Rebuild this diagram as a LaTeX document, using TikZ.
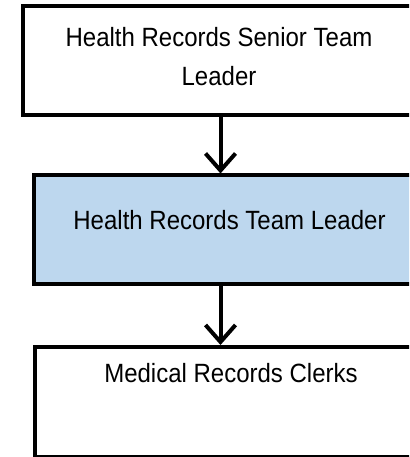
\documentclass[tikz,border=0pt]{standalone}
\usepackage{fontspec}
\setmainfont{Liberation Sans}
\usetikzlibrary{arrows.meta}
\definecolor{leadblue}{HTML}{BDD7EE}
\tikzset{
  post/.style={draw=black, line width=4pt, rectangle, inner sep=0pt},
  postname/.style={inner sep=0pt, align=center, yscale=1.1, transform shape,
    font=\fontsize{24}{35.5}\selectfont},
  arr/.style={line width=4pt, -{Straight Barb[length=17pt,width=30pt]}}
}
\begin{document}
\begin{tikzpicture}[x=1pt,y=1pt]
  \useasboundingbox (0,0) rectangle (409,457);
  \clip (0,0) rectangle (409,457);
  % the three posts, top to bottom
  \node[post, fill=white, minimum width=395pt, minimum height=109pt] (senior) at (220.5,396) {};
  \node[post, fill=leadblue, minimum width=390pt, minimum height=109pt] (leader) at (229,227) {};
  \node[post, fill=white, minimum width=392pt, minimum height=110pt] (clerks) at (231,55) {};
  % their titles
  \node[postname, anchor=base] (seniortxt) at (219,371) {Health Records Senior Team\\Leader};
  \node[postname, anchor=base] (leadertxt) at (229.5,227) {Health Records Team Leader};
  \node[postname, anchor=base] (clerkstxt) at (231,74) {Medical Records Clerks};
  % reporting lines
  \draw[arr] (senior.south) -- (senior.south |- leader.north);
  \draw[arr] (leader.south -| senior.south) -- (senior.south |- clerks.north);
\end{tikzpicture}
\end{document}
